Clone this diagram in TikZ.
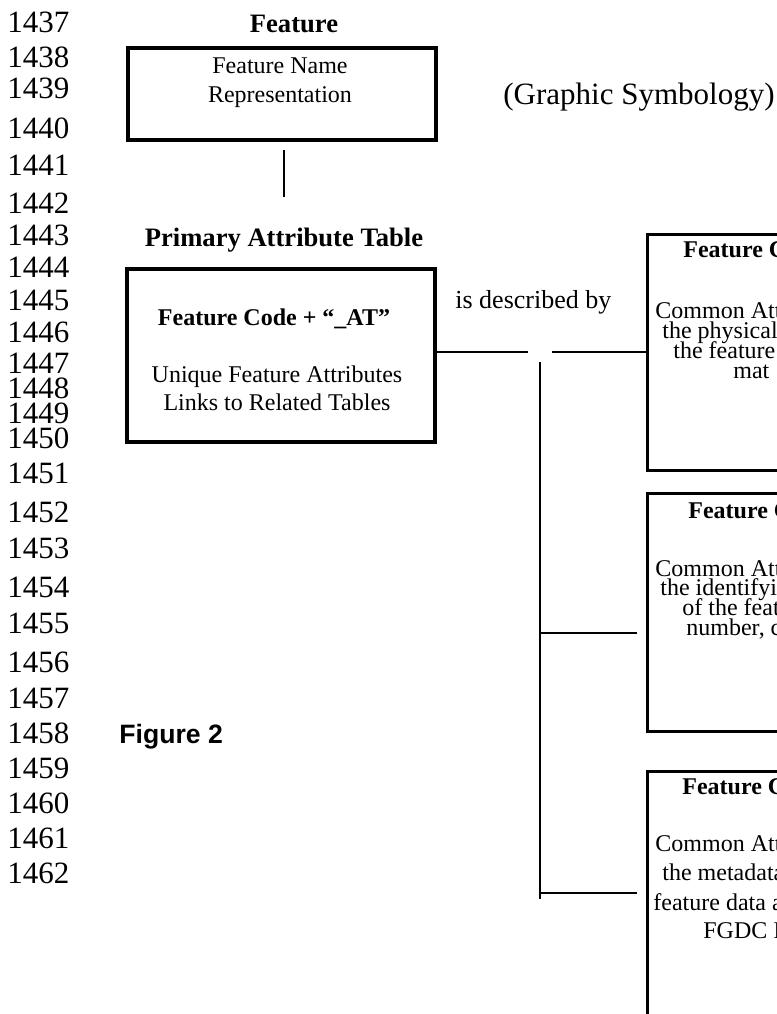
\documentclass[tikz,border=0pt]{standalone}
\usepackage{fontspec}
\setmainfont{Liberation Serif}
\newfontfamily\figfont{Liberation Sans}
\usetikzlibrary{positioning}
\tikzset{
    table-box/.style = {draw, line width=1.6pt, rectangle, inner sep=0pt},
    table-title/.style = {font=\bfseries\fontsize{13.3}{16}\selectfont, anchor=base, inner sep=0pt},
    box-title/.style = {font=\bfseries\fontsize{12}{14}\selectfont, anchor=base west, inner sep=0pt},
    box-text/.style = {font=\fontsize{12}{14}\selectfont, anchor=base west, inner sep=0pt},
    line-num/.style = {font=\fontsize{15.5}{18}\selectfont, anchor=base west, inner sep=0pt},
    link/.style = {line width=0.8pt},
}

\begin{document}
\begin{tikzpicture}[x=0.5pt, y=-0.5pt]
\useasboundingbox (0,0) rectangle (777,1014);
\clip (0,0) rectangle (777,1014);

% line numbers down the margin
\foreach \num/\ypos in {1437/32, 1438/67, 1439/98, 1440/138, 1441/175, 1442/213,
    1443/245, 1444/277, 1445/310, 1446/342, 1447/373, 1448/398, 1449/423, 1450/448,
    1451/483, 1452/522, 1453/558, 1454/597, 1455/633, 1456/672, 1457/708, 1458/743,
    1459/778, 1460/813, 1461/848, 1462/883}
  \node[line-num] (ln\num) at (7,\ypos) {\num};

% feature
\node[table-title] (feat-title) at (294,32) {Feature};
\node[table-box, minimum width=154pt, minimum height=46pt] (feat) at (282,94) {};
\node[box-text, anchor=base] (feat-name) at (280,73) {Feature Name};
\node[box-text, anchor=base] (feat-rep) at (280,102) {Representation};
\node[anchor=base west, inner sep=0pt, font=\fontsize{15.5}{18}\selectfont] (symb) at (503,104) {(Graphic Symbology)};
\coordinate (tick-top) at (284,150);
\coordinate (tick-bot) at (284,197);
\draw[link] (tick-top) -- (tick-bot);

% primary attribute table
\node[table-title] (pat-title) at (284,246) {Primary Attribute Table};
\node[table-box, minimum width=154pt, minimum height=86.5pt] (pat) at (281,355.5) {};
\node[box-title, anchor=base] (pat-code) at (274,325) {Feature Code + ``\_AT''};
\node[box-text, anchor=base] (pat-uniq) at (277,382) {Unique Feature Attributes};
\node[box-text, anchor=base] (pat-links) at (277,410) {Links to Related Tables};

\node[anchor=base west, inner sep=0pt, font=\fontsize{13}{16}\selectfont] (desc) at (455,308) {is described by};

% cover tables, cut off by the page edge
\node[table-box, anchor=north west, minimum width=160pt, minimum height=118pt] (cov-a) at (646,233) {};
\node[box-title] (cov-a-title) at (683,257) {Feature C};
\node[box-text] (cov-a-1) at (655,318) {Common Att};
\node[box-text] (cov-a-2) at (662,338) {the physical};
\node[box-text] (cov-a-3) at (673,358) {the feature};
\node[box-text] (cov-a-4) at (733,378) {mat};

\node[table-box, anchor=north west, minimum width=160pt, minimum height=119pt] (cov-b) at (646,492) {};
\node[box-title] (cov-b-title) at (688,518) {Feature C};
\node[box-text] (cov-b-1) at (655,576) {Common Att};
\node[box-text] (cov-b-2) at (660,595) {the identifyi};
\node[box-text] (cov-b-3) at (682,615) {of the feat};
\node[box-text] (cov-b-4) at (686,635) {number, c};

\node[table-box, anchor=north west, minimum width=160pt, minimum height=160pt] (cov-c) at (646,770) {};
\node[box-title] (cov-c-title) at (682,794) {Feature C};
\node[box-text] (cov-c-1) at (655,851) {Common Att};
\node[box-text] (cov-c-2) at (662,880) {the metadata};
\node[box-text] (cov-c-3) at (653,910) {feature data a};
\node[box-text] (cov-c-4) at (703,938) {FGDC I};

% links
\coordinate (gap-l) at (528,352);
\coordinate (gap-r) at (552,352);
\coordinate (trunk-top) at (540,362);
\coordinate (trunk-bot) at (540,899);
\coordinate (stub-b) at (637,633);
\coordinate (stub-c) at (637,893);
\draw[link] (pat.east |- gap-l) -- (gap-l);
\draw[link] (gap-r) -- (cov-a.west |- gap-r);
\draw[link] (trunk-top) -- (trunk-bot);
\draw[link] (trunk-top |- stub-b) -- (stub-b);
\draw[link] (trunk-top |- stub-c) -- (stub-c);

\node[anchor=base west, inner sep=0pt, font=\figfont\bfseries\fontsize{13.3}{16}\selectfont] (fig) at (119,743) {Figure 2};
\end{tikzpicture}
\end{document}
